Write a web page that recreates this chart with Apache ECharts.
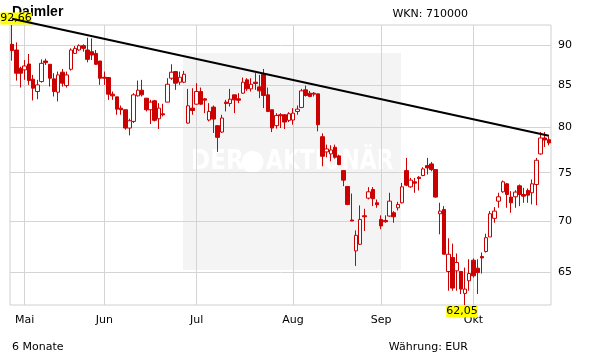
<!DOCTYPE html>
<html><head><meta charset="utf-8">
<script src="https://cdn.jsdelivr.net/npm/echarts@6/dist/echarts.min.js"></script>
<style>html,body{margin:0;padding:0;background:#fff}#c{width:611px;height:364px}</style>
</head><body><div id="c"></div>
<script>
// Daily OHLC, Daimler (WKN 710000), about 6 months (end of April to end of October)
const opens = [
90.13,89.40,87.09,86.89,87.63,85.74,84.24,85.45,88.00,87.59,
85.78,84.16,86.60,84.96,86.97,88.97,89.40,89.96,89.40,89.19,
88.97,88.00,85.98,85.94,83.92,83.60,82.26,82.07,79.95,80.71,
83.72,84.40,83.44,82.07,83.13,81.02,81.60,82.97,85.86,86.68,
85.37,85.37,80.52,82.26,82.73,84.24,83.36,80.87,82.38,80.22,
79.49,82.97,82.81,83.84,83.36,84.04,85.66,84.56,85.37,84.80,
86.35,83.84,82.07,80.22,81.48,81.48,80.83,80.87,81.87,82.34,
84.44,84.04,84.04,83.96,78.96,77.26,77.04,77.77,76.82,75.22,
73.53,70.08,67.05,67.69,70.51,72.31,73.21,71.83,70.14,70.04,
70.48,70.81,71.32,71.83,75.22,73.49,74.02,74.51,74.69,75.76,
75.94,75.33,70.71,71.15,65.10,66.41,65.16,65.10,63.09,64.24,
66.16,65.41,66.51,66.99,68.40,70.25,72.00,72.97,73.81,72.42,
72.45,73.60,72.69,73.11,72.87,73.74,77.04,78.81,78.63];
const closes = [
89.32,86.48,86.48,87.38,85.57,84.64,85.04,87.71,87.80,85.86,
84.24,86.27,85.25,86.27,89.40,89.61,89.96,89.61,88.21,88.76,
87.59,85.86,85.86,83.92,83.72,82.14,82.07,79.95,80.79,83.84,
84.40,83.84,82.07,82.97,80.83,82.26,81.48,85.12,86.60,85.25,
85.98,86.35,82.53,81.98,84.24,82.73,83.20,81.87,80.98,78.89,
81.10,82.81,83.32,83.24,83.20,85.37,84.56,85.12,85.21,84.32,
83.76,81.87,79.95,81.40,81.37,80.64,81.60,81.67,82.14,84.32,
83.76,83.64,83.92,80.33,76.78,77.59,77.48,76.67,75.87,74.20,
71.66,69.98,68.56,70.14,70.41,72.97,72.25,71.63,69.49,69.91,
72.00,70.41,71.66,73.49,73.67,74.20,73.88,74.37,75.40,75.51,
75.33,72.42,70.98,66.73,66.73,63.57,65.94,63.48,63.48,64.91,
64.70,65.00,66.38,68.33,70.71,70.98,72.45,74.02,72.69,71.83,
72.94,72.69,72.52,72.62,73.81,76.34,78.81,78.59,78.26];
const lows = [
88.05,85.57,84.72,85.66,85.04,83.17,83.32,85.33,87.51,84.84,
83.64,83.05,84.84,84.72,86.80,88.89,89.28,89.19,87.84,88.13,
87.51,85.04,85.04,83.24,83.24,81.48,81.48,79.76,79.11,80.52,
83.64,83.64,81.87,80.41,80.71,79.84,81.29,82.97,85.66,84.44,
85.04,85.25,80.45,81.48,82.65,82.65,81.67,80.71,79.38,77.26,
79.38,81.87,82.45,81.67,82.85,83.96,84.32,84.24,84.44,83.44,
82.26,81.79,79.49,79.88,79.95,79.84,80.64,80.33,81.48,82.26,
83.64,83.56,83.64,79.57,75.69,76.67,76.23,76.52,75.80,73.56,
71.59,69.98,65.62,67.62,68.99,72.18,71.49,71.32,69.16,69.81,
70.41,69.81,71.05,71.76,73.56,73.39,72.87,73.11,74.62,74.80,
75.15,72.35,68.66,66.73,63.33,63.33,63.33,63.03,62.05,63.33,
64.54,63.03,64.91,66.89,68.40,69.81,71.32,72.87,71.32,70.81,
71.32,71.49,71.83,71.83,71.66,71.59,76.96,77.81,77.99];
const highs = [
92.66,90.38,87.30,88.13,88.89,86.27,85.66,88.21,88.30,87.59,
86.48,86.68,87.01,86.68,89.61,89.91,90.13,90.13,90.99,90.90,
89.40,88.00,86.68,85.94,84.24,83.60,82.57,82.07,81.02,84.04,
85.57,85.66,83.44,83.24,83.24,82.85,82.77,85.86,87.59,86.76,
86.68,86.76,84.56,84.64,85.25,84.72,83.44,82.85,82.57,80.22,
81.48,83.24,84.56,83.84,84.04,85.94,85.86,85.86,86.48,86.27,
87.01,84.72,82.07,81.67,81.67,81.56,81.79,82.26,82.57,84.56,
84.96,84.32,84.16,83.96,79.34,78.07,78.00,78.07,76.96,75.22,
73.53,72.79,69.05,71.56,71.22,73.46,73.46,72.17,70.55,70.55,
72.87,70.98,71.93,73.91,76.60,74.44,74.44,74.62,75.58,76.60,
76.16,75.33,71.83,71.49,68.27,67.75,66.80,65.10,65.47,66.25,
66.33,66.25,66.89,68.72,70.98,71.39,72.87,74.16,73.91,73.04,
73.14,73.74,73.39,73.32,74.27,76.60,79.49,79.49,79.00];

const monthNames = ['Mai','Jun','Jul','Aug','Sep','Okt'];
const monthStartIdx = [3, 22, 44, 67, 88, 110];
const yTicks = [65, 70, 75, 80, 85, 90];
const trendValues = [93.5, 79.08];      // trend line at first and last trading day
const titleText = 'Daimler';
const wknText = 'WKN: 710000';
const periodText = '6 Monate';
const currencyText = 'Währung: EUR';
const watermarkWords = ['DER', 'AKTIONÄR'];

const categories = opens.map((_, i) => 'T' + i);
const ohlc = opens.map((o, i) => [o, closes[i], lows[i], highs[i]]);
const lowMin = Math.min(...lows), highMax = Math.max(...highs);
const iMin = lows.indexOf(lowMin), iMax = highs.indexOf(highMax);
const fmt = v => v.toFixed(2).replace('.', ',');
const FONT = 'DejaVu Sans';
const RED = '#cc0000';
const GRID = '#d4d4d4';
const WM_FONT = 'bold 27px "Liberation Sans Narrow", "DejaVu Sans Condensed", sans-serif';

const chart = echarts.init(document.getElementById('c'));
chart.setOption({
  animation: false,
  grid: {left: 10, right: 60, top: 25, bottom: 59, show: true, borderColor: '#d0d0d0', borderWidth: 1},
  xAxis: {
    type: 'category', data: categories, boundaryGap: true,
    axisLine: {show: false}, axisTick: {show: false}, splitLine: {show: false},
    axisLabel: {
      interval: (i) => monthStartIdx.includes(i),
      formatter: (v, i) => monthNames[monthStartIdx.indexOf(i)] || '',
      color: '#000', fontSize: 11, fontFamily: FONT, margin: 10
    }
  },
  yAxis: {
    type: 'log', logBase: 10, min: lowMin, max: highMax, position: 'right',
    axisLine: {show: false}, axisTick: {show: false}, axisLabel: {show: false}, splitLine: {show: false}
  },
  graphic: [
    {type: 'rect', z: 0, silent: true, shape: {x: 183, y: 53, width: 218, height: 217}, style: {fill: '#f4f4f4'}},
    {type: 'text', z: 1, silent: true, x: 191, y: 162, scaleX: 0.95, style: {text: watermarkWords[0], font: WM_FONT, fill: '#ffffff', textAlign: 'left', textVerticalAlign: 'middle'}},
    {type: 'circle', z: 1, silent: true, shape: {cx: 252.5, cy: 162, r: 11}, style: {fill: '#ffffff'}},
    {type: 'text', z: 1, silent: true, x: 266, y: 162, scaleX: 0.9, style: {text: watermarkWords[1], font: WM_FONT, fill: '#ffffff', textAlign: 'left', textVerticalAlign: 'middle'}},
    {type: 'text', z: 1, x: 12, y: 12.5, style: {text: titleText, font: 'bold 14px "Liberation Sans", Arial, sans-serif', fill: '#000', textAlign: 'left', textVerticalAlign: 'middle'}},
    {type: 'text', z: 1, x: 468, y: 14, style: {text: wknText, font: '11px "DejaVu Sans"', fill: '#000', textAlign: 'right', textVerticalAlign: 'middle'}},
    {type: 'text', z: 1, x: 12, y: 347, style: {text: periodText, font: '11px "DejaVu Sans"', fill: '#000', textAlign: 'left', textVerticalAlign: 'middle'}},
    {type: 'text', z: 1, x: 468, y: 347, style: {text: currencyText, font: '11px "DejaVu Sans"', fill: '#000', textAlign: 'right', textVerticalAlign: 'middle'}}
  ],
  series: [
    {
      type: 'candlestick', z: 2, data: ohlc, barWidth: 4, silent: true,
      itemStyle: {color: '#ffffff', color0: RED, borderColor: RED, borderColor0: RED, borderWidth: 1},
      markPoint: {
        z: 4, silent: true, symbol: 'rect', symbolSize: 0, animation: false,
        label: {show: true, formatter: '{b}', color: '#000', fontSize: 11, fontFamily: FONT,
                backgroundColor: '#ffff00', padding: [1, 0, 0, 0], lineHeight: 11},
        data: [
          {name: fmt(highMax), coord: [categories[iMax], highMax], label: {offset: [4, -6.5]}},
          {name: fmt(lowMin), coord: [categories[iMin], lowMin], label: {offset: [-3, 6.5]}}
        ]
      }
    },
    {
      type: 'line', z: 5, silent: true, clip: false, showSymbol: false, symbol: 'none',
      data: [[categories[0], trendValues[0]], [categories[categories.length - 1], trendValues[1]]],
      lineStyle: {color: '#000', width: 2},
      markLine: {
        z: 1, silent: true, symbol: ['none', 'none'], animation: false,
        lineStyle: {color: GRID, width: 1, type: 'solid'},
        label: {show: false},
        data: [
          ...yTicks.map(v => ({yAxis: v, label: {show: true, position: 'end', formatter: String(v), distance: 7, color: '#000', fontSize: 11, fontFamily: FONT}})),
          ...monthStartIdx.map(i => ({xAxis: categories[i]}))
        ]
      }
    }
  ]
});
</script>
</body></html>
